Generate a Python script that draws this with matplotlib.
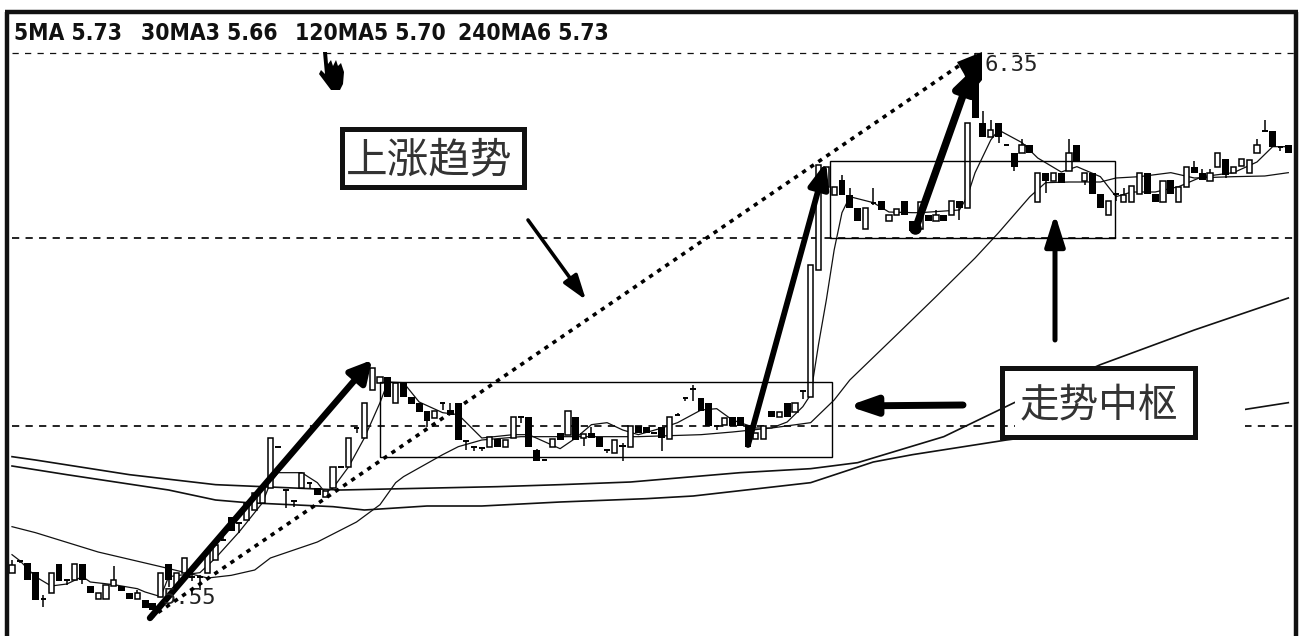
import matplotlib
matplotlib.use('Agg')
import matplotlib.pyplot as plt
from matplotlib.patches import Rectangle, Polygon

plt.rcParams['font.family'] = ['Noto Sans CJK SC', 'DejaVu Sans']

# candles
opens = [
    5.571, 5.588, 5.585, 5.572, 5.531, 5.540, 5.584, 5.560, 5.560, 5.584,
    5.551, 5.531, 5.531, 5.551, 5.551, 5.540, 5.531, 5.530, 5.525, 5.535,
    5.584, 5.550, 5.570, 5.565, 5.565, 5.570, 5.590, 5.620, 5.655, 5.645,
    5.650, 5.665, 5.675, 5.698, 5.759, 5.695, 5.678, 5.698, 5.705, 5.698,
    5.685, 5.698, 5.730, 5.730, 5.788, 5.773, 5.845, 5.855, 5.865, 5.825,
    5.855, 5.834, 5.825, 5.813, 5.803, 5.825, 5.815, 5.825, 5.768, 5.759,
    5.758, 5.759, 5.771, 5.759, 5.773, 5.804, 5.805, 5.755, 5.740, 5.759,
    5.781, 5.778, 5.805, 5.773, 5.781, 5.774, 5.755, 5.750, 5.763, 5.759,
    5.791, 5.789, 5.780, 5.790, 5.771, 5.808, 5.833, 5.846, 5.833, 5.825,
    5.791, 5.793, 5.804, 5.804, 5.793, 5.772, 5.772, 5.813, 5.804, 5.825,
    5.812, 5.843, 5.835, 6.025, 6.150, 6.138, 6.160, 6.138, 6.118, 6.086,
    6.125, 6.128, 6.098, 6.107, 6.128, 6.098, 6.086, 6.108, 6.098, 6.108,
    6.108, 6.128, 6.118, 6.320, 6.245, 6.224, 6.245, 6.213, 6.200, 6.200,
    6.213, 6.127, 6.171, 6.159, 6.171, 6.173, 6.213, 6.158, 6.171, 6.139,
    6.107, 6.139, 6.127, 6.127, 6.139, 6.170, 6.139, 6.127, 6.160, 6.127,
    6.150, 6.180, 6.171, 6.159, 6.180, 6.191, 6.170, 6.181, 6.170, 6.200,
    6.233, 6.233, 6.210, 6.213,
]
closes = [
    5.583, 5.588, 5.560, 5.530, 5.531, 5.571, 5.559, 5.560, 5.584, 5.560,
    5.540, 5.540, 5.553, 5.560, 5.543, 5.531, 5.540, 5.518, 5.515, 5.571,
    5.560, 5.570, 5.593, 5.565, 5.565, 5.603, 5.613, 5.620, 5.633, 5.645,
    5.675, 5.690, 5.700, 5.773, 5.759, 5.695, 5.678, 5.720, 5.705, 5.688,
    5.693, 5.730, 5.730, 5.773, 5.788, 5.825, 5.878, 5.865, 5.835, 5.855,
    5.835, 5.824, 5.812, 5.798, 5.813, 5.825, 5.808, 5.770, 5.768, 5.759,
    5.758, 5.774, 5.759, 5.770, 5.804, 5.804, 5.759, 5.739, 5.740, 5.772,
    5.770, 5.813, 5.770, 5.779, 5.773, 5.759, 5.755, 5.770, 5.759, 5.791,
    5.781, 5.780, 5.780, 5.773, 5.805, 5.808, 5.833, 5.846, 5.813, 5.791,
    5.791, 5.803, 5.791, 5.791, 5.759, 5.781, 5.791, 5.805, 5.812, 5.804,
    5.825, 5.843, 6.033, 6.183, 6.180, 6.150, 6.138, 6.118, 6.098, 6.118,
    6.125, 6.115, 6.108, 6.117, 6.108, 6.083, 6.127, 6.098, 6.108, 6.098,
    6.128, 6.118, 6.245, 6.253, 6.224, 6.235, 6.225, 6.213, 6.180, 6.213,
    6.200, 6.171, 6.158, 6.171, 6.156, 6.200, 6.189, 6.171, 6.139, 6.118,
    6.128, 6.139, 6.138, 6.151, 6.170, 6.139, 6.127, 6.159, 6.139, 6.150,
    6.180, 6.171, 6.160, 6.171, 6.200, 6.168, 6.180, 6.191, 6.190, 6.213,
    6.233, 6.210, 6.210, 6.200,
]
# only the bars that have a wick sticking out of the body
high_wicks = {0: 5.590, 1: 5.589, 4: 5.538, 13: 5.581, 16: 5.545, 23: 5.572, 24: 5.568, 27: 5.630,
              56: 5.825, 67: 5.757, 74: 5.790, 78: 5.765, 85: 5.810, 87: 5.853, 106: 6.168,
              107: 6.148, 110: 6.148, 118: 6.115, 123: 6.350, 124: 6.263, 125: 6.250, 129: 6.222,
              135: 6.222, 142: 6.148, 151: 6.189, 152: 6.176, 153: 6.176, 159: 6.222, 160: 6.250}
low_wicks = {1: 5.586, 4: 5.520, 7: 5.553, 9: 5.554, 20: 5.550, 23: 5.558, 24: 5.545, 29: 5.630,
             35: 5.668, 36: 5.670, 38: 5.698, 44: 5.780, 53: 5.790, 55: 5.815, 58: 5.755,
             59: 5.754, 60: 5.754, 65: 5.795, 67: 5.738, 73: 5.761, 76: 5.751, 78: 5.738,
             83: 5.753, 86: 5.828, 87: 5.828, 90: 5.785, 101: 5.831, 110: 6.122, 121: 6.100,
             126: 6.215, 128: 6.174, 132: 6.140, 137: 6.152, 141: 6.129, 155: 6.163, 162: 6.203}

# moving averages
ma5_idx = [0, 1, 3, 5, 7, 9, 10, 13, 16, 17, 19, 20, 24, 26, 29, 32, 33, 34, 37, 39, 40, 41, 43, 45,
           47, 48, 50, 52, 55, 57, 60, 64, 66, 70, 72, 74, 76, 78, 80, 83, 85, 88, 90, 92, 95, 97,
           99, 101, 102, 103, 104, 105, 106, 107, 110, 112, 115, 116, 121, 122, 123, 125, 126,
           129, 131, 134, 136, 139, 141, 143, 146, 149, 152, 156, 159, 161, 163]
ma5_val = [5.598, 5.589, 5.565, 5.551, 5.554, 5.565, 5.557, 5.553, 5.547, 5.542, 5.535, 5.565,
           5.571, 5.593, 5.632, 5.676, 5.706, 5.721, 5.721, 5.706, 5.691, 5.698, 5.730, 5.773,
           5.826, 5.857, 5.856, 5.827, 5.811, 5.808, 5.773, 5.778, 5.778, 5.757, 5.773, 5.793,
           5.796, 5.785, 5.778, 5.788, 5.796, 5.815, 5.817, 5.800, 5.788, 5.788, 5.797, 5.820,
           5.838, 5.913, 5.980, 6.055, 6.111, 6.135, 6.126, 6.112, 6.111, 6.111, 6.115, 6.135,
           6.171, 6.220, 6.235, 6.216, 6.193, 6.172, 6.180, 6.165, 6.135, 6.142, 6.142, 6.150,
           6.165, 6.171, 6.187, 6.210, 6.210]
ma30_idx = [0, 3, 11, 19, 25, 28, 31, 33, 39, 44, 47, 49, 50, 55, 57, 60, 65, 80, 88, 92, 97, 102,
            105, 107, 113, 118, 123, 126, 130, 132, 135, 139, 141, 144, 148, 151, 156, 160, 163]
ma30_val = [5.640, 5.631, 5.602, 5.580, 5.563, 5.567, 5.575, 5.593, 5.617, 5.647, 5.673, 5.706,
            5.715, 5.748, 5.760, 5.770, 5.775, 5.775, 5.778, 5.782, 5.788, 5.796, 5.830, 5.860,
            5.928, 5.985, 6.043, 6.081, 6.135, 6.156, 6.157, 6.157, 6.163, 6.165, 6.171, 6.163,
            6.165, 6.166, 6.171]
ma120_idx = [0, 3, 15, 26, 32, 42, 50, 62, 70, 79, 85, 93, 102, 108, 119, 128, 139, 151, 163]
ma120_val = [5.745, 5.740, 5.718, 5.703, 5.700, 5.695, 5.697, 5.700, 5.703, 5.707, 5.713, 5.721,
             5.727, 5.736, 5.775, 5.826, 5.883, 5.935, 5.983]
ma240_idx = [0, 7, 20, 26, 30, 41, 45, 53, 60, 70, 81, 87, 93, 102, 110, 115, 127, 157, 163]
ma240_val = [5.731, 5.718, 5.695, 5.680, 5.676, 5.670, 5.665, 5.671, 5.671, 5.677, 5.682, 5.686,
             5.694, 5.706, 5.737, 5.748, 5.770, 5.815, 5.826]

levels = [6.35, 6.073, 5.791]
ma_labels = ['5MA 5.73', '30MA3 5.66', '120MA5 5.70', '240MA6 5.73']
ma_label_pos = [14, 141, 295, 458]

W, H = 1301, 636
BAR_STEP = 7.83     # pixels per bar
PRICE_PX = 0.0015   # price per pixel

fig = plt.figure(figsize=(W / 100, H / 100), dpi=100, facecolor='white')
ax = fig.add_axes([0, 0, 1, 1])
ax.set_xlim(-12 / BAR_STEP, (W - 12) / BAR_STEP)
ax.set_ylim(6.43 - H * PRICE_PX, 6.43)
ax.axis('off')

# dashed price levels
ax.hlines(levels[0], 0, 164, color='#111111', lw=0.9, linestyles=(0, (5, 5)), zorder=1)
ax.hlines(levels[1:], 0, 164, color='#111111', lw=1.3, linestyles=(0, (4, 3.5)), zorder=1)

# moving averages
ax.plot(ma240_idx, ma240_val, color='#111111', lw=1.2, zorder=2)
ax.plot(ma120_idx, ma120_val, color='#111111', lw=1.2, zorder=2)
ax.plot(ma30_idx, ma30_val, color='#111111', lw=0.9, zorder=2)
ax.plot(ma5_idx, ma5_val, color='#111111', lw=0.9, zorder=2)

# candles: hollow when up, solid when down
for i in range(len(opens)):
    o, c = opens[i], closes[i]
    top, bottom = max(o, c), min(o, c)
    hi = high_wicks.get(i, top)
    lo = low_wicks.get(i, bottom)
    if hi > top:
        ax.vlines(i, top, hi, color='black', lw=1.1, zorder=3)
    if lo < bottom:
        ax.vlines(i, lo, bottom, color='black', lw=1.1, zorder=3)
    if c == o:
        ax.hlines(o, i - 0.35, i + 0.35, color='black', lw=1.4, zorder=3)
    elif c > o:
        ax.bar(i, top - bottom, 0.66, bottom=bottom, facecolor='white', edgecolor='black',
               lw=1.1, zorder=3)
    else:
        ax.bar(i, top - bottom, 0.88, bottom=bottom, color='black', lw=0, zorder=3)

# everything drawn on top of the chart uses picture pixels
over = fig.add_axes([0, 0, 1, 1])
over.set_xlim(0, W)
over.set_ylim(H, 0)
over.axis('off')


def arrow(start, end, lw, head_len, head_wid):
    style = '-|>,head_length=%s,head_width=%s' % (head_len, head_wid)
    over.annotate('', xy=end, xytext=start,
                  arrowprops=dict(arrowstyle=style, lw=lw, color='black', shrinkA=0, shrinkB=0,
                                  mutation_scale=10))


def callout(x0, y0, x1, y1, text, tx, size):
    over.add_patch(Rectangle((x0, y0), x1 - x0, y1 - y0, fill=False, ec='#111111', lw=3.6, zorder=6))
    over.text(tx, (y0 + y1) / 2 + 3, text, fontsize=size, ha='left', va='center', color='#333333',
              fontweight='light', zorder=7)


# zhongshu boxes
over.add_patch(Rectangle((380, 382), 452, 75, fill=False, ec='black', lw=1.0))
over.add_patch(Rectangle((830, 161), 285, 77, fill=False, ec='black', lw=1.0))

# the white patch hiding the lines around the right callout
over.add_patch(Rectangle((1015, 369), 230, 68, fc='white', ec='none', zorder=1))

# trend arrows
over.plot([150, 960], [618, 65], color='black', lw=2.6, linestyle=(0, (1.2, 1.5)), zorder=4)
arrow((150, 618), (372, 360), 4.6, 1.3, 0.7)
arrow((748, 445), (826, 162), 4.2, 1.5, 0.6)
arrow((915, 230), (972, 70), 5.4, 1.2, 0.6)
arrow((528, 220), (586, 300), 2.6, 1.5, 0.5)
arrow((963, 405), (848, 406), 5.0, 1.6, 0.55)
arrow((1055, 340), (1055, 214), 3.6, 1.9, 0.6)
over.plot([915], [228], marker='o', ms=8, color='black')
# the two heads meet in one blob at the top
over.add_patch(Polygon([(957, 62), (982, 52), (982, 80), (972, 92), (964, 74)], closed=True,
                       fc='black', ec='none', zorder=5))

callout(342, 129, 524, 187, '上涨趋势', 346, 30)
callout(1002, 368, 1195, 437, '走势中枢', 1020, 28.5)

# price marks
over.text(985, 65, '6.35', family='DejaVu Sans Mono', fontsize=16, color='#222222', ha='left', va='center')
over.text(162, 598, '5.55', family='DejaVu Sans Mono', fontsize=16, color='#222222', ha='left', va='center')

# MA readout along the top
for label, x in zip(ma_labels, ma_label_pos):
    over.text(x, 33, label, family='DejaVu Sans', stretch='condensed', fontweight='bold',
              fontsize=16.4, color='#111111', ha='left', va='center')

# mouse cursor
over.add_patch(Polygon([(323, 52), (327, 52), (328, 64), (331, 60), (333, 66), (336, 60), (338, 66),
                        (341, 63), (344, 72), (343, 84), (340, 90), (331, 90), (319, 74), (321, 70),
                        (325, 74)], closed=True, fc='black', ec='none'))

# frame
over.plot([7, 7], [12, H], color='#111111', lw=3.2, solid_capstyle='butt')
over.plot([5, 1298], [12, 12], color='#111111', lw=3.2, solid_capstyle='butt')
over.plot([1296, 1296], [12, H], color='#111111', lw=3.2, solid_capstyle='butt')

fig.savefig('out.png', dpi=100)
